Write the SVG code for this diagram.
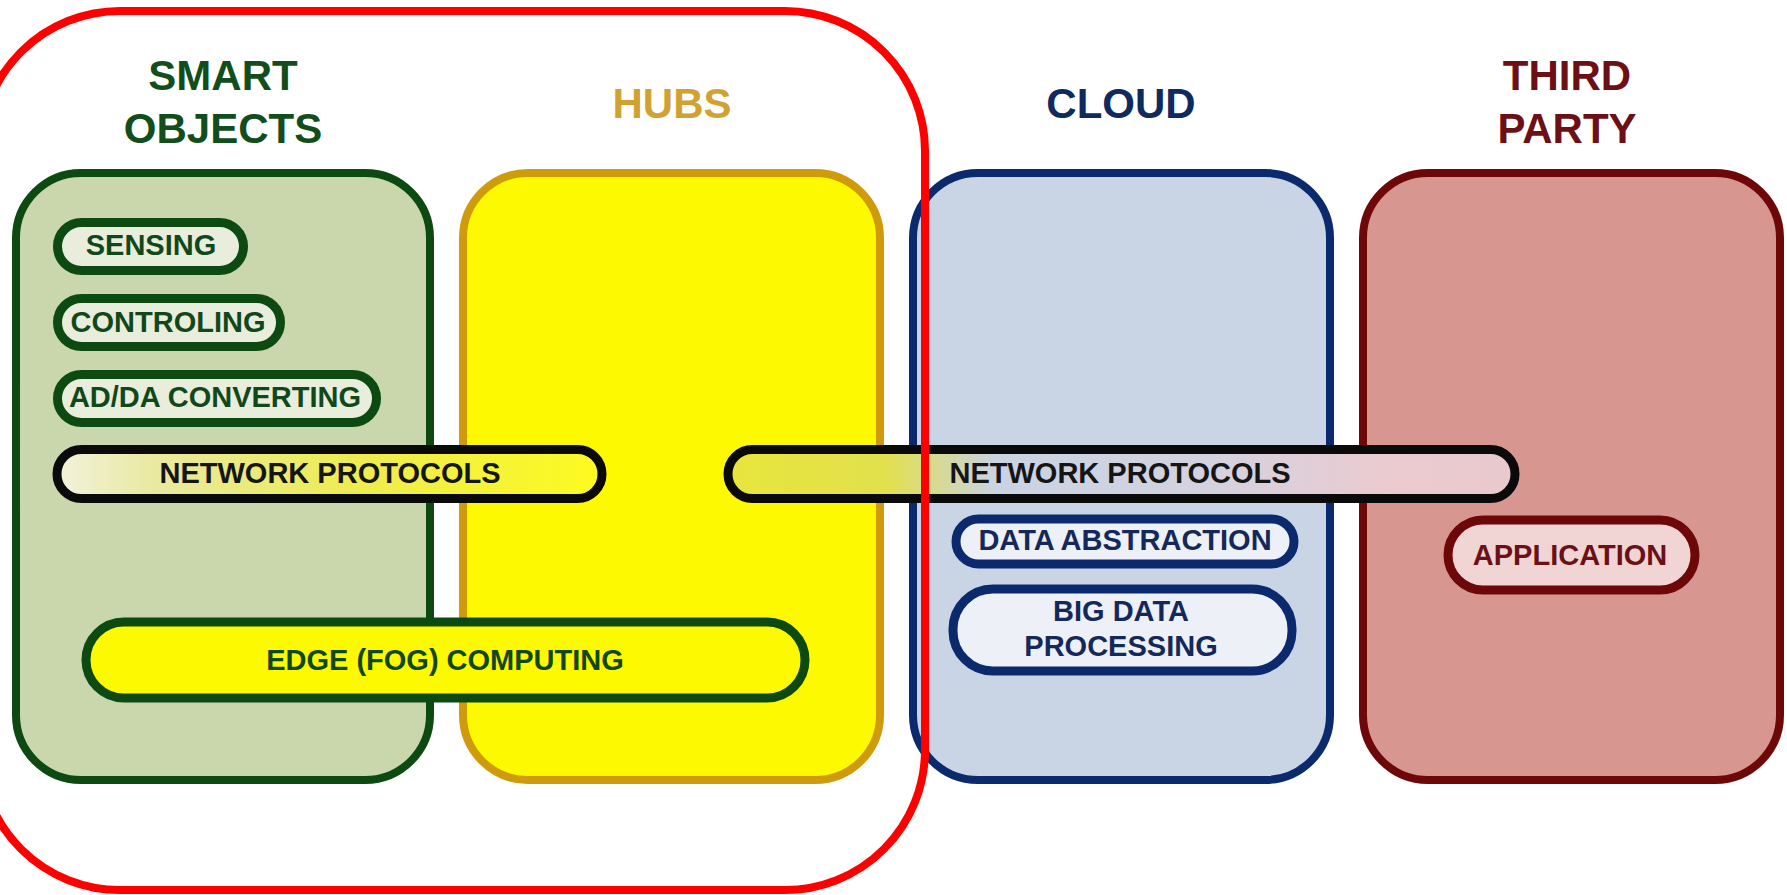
<svg xmlns="http://www.w3.org/2000/svg" width="1787" height="895" viewBox="0 0 1787 895">
<defs>
<style>
text{font-family:"Liberation Sans",Arial,sans-serif;font-weight:bold;text-anchor:middle}
.title{font-size:42px}
.lbl{font-size:29px}
.box{stroke-width:8}
.pill{stroke-width:9}
.g{fill:#10481a}
.gs{stroke:#0c4a12}
</style>
<linearGradient id="np1" x1="0" y1="0" x2="1" y2="0">
<stop offset="0" stop-color="#f2f2dc"/>
<stop offset="0.18" stop-color="#e9e9a0"/>
<stop offset="0.55" stop-color="#eeec50"/>
<stop offset="1" stop-color="#fdfa20"/>
</linearGradient>
<linearGradient id="np2" x1="0" y1="0" x2="1" y2="0">
<stop offset="0" stop-color="#e8e63c"/>
<stop offset="0.2" stop-color="#e2e04c"/>
<stop offset="0.34" stop-color="#cad3e2"/>
<stop offset="0.6" stop-color="#d3d2e0"/>
<stop offset="0.85" stop-color="#ebcbcf"/>
<stop offset="1" stop-color="#e8c9cd"/>
</linearGradient>
</defs>
<rect width="1787" height="895" fill="#ffffff"/>

<g id="smart-objects">
<rect class="box gs" x="16" y="173" width="414" height="607" rx="65" fill="#cad7ad"/>
<text class="title" x="223" y="90" fill="#124d1c">SMART</text>
<text class="title" x="223" y="143" fill="#124d1c">OBJECTS</text>
</g>
<g id="hubs">
<rect class="box" x="463" y="173" width="417" height="607" rx="65" fill="#fdf900" stroke="#cf9b0c"/>
<text class="title" x="672" y="118" fill="#d1a232">HUBS</text>
</g>
<g id="cloud">
<rect class="box" x="913" y="173" width="417" height="607" rx="65" fill="#c9d4e4" stroke="#0b2a6e"/>
<text class="title" x="1121" y="118" fill="#0f2a5e">CLOUD</text>
</g>
<g id="third-party">
<rect class="box" x="1363" y="173" width="417" height="607" rx="65" fill="#d89691" stroke="#6e0808"/>
<text class="title" x="1567" y="90" fill="#6d1016">THIRD</text>
<text class="title" x="1567" y="143" fill="#6d1016">PARTY</text>
</g>

<g id="sensing">
<rect class="pill gs" x="57.5" y="222.5" width="186" height="48" rx="24" fill="#e9eddc"/>
<text class="lbl g" x="151" y="255">SENSING</text>
</g>
<g id="controling">
<rect class="pill gs" x="57.5" y="298.5" width="223" height="48" rx="24" fill="#e9eddc"/>
<text class="lbl g" x="168" y="332">CONTROLING</text>
</g>
<g id="adda-converting">
<rect class="pill gs" x="57.5" y="374.5" width="319" height="48" rx="24" fill="#e9eddc"/>
<text class="lbl g" x="215" y="407">AD/DA CONVERTING</text>
</g>
<g id="network-protocols-1">
<rect class="pill" x="57" y="449.5" width="545" height="49" rx="24.5" fill="url(#np1)" stroke="#0a0a0a"/>
<text class="lbl" x="330" y="483" fill="#151515">NETWORK PROTOCOLS</text>
</g>
<g id="network-protocols-2">
<rect class="pill" x="728" y="449.5" width="787" height="49" rx="24.5" fill="url(#np2)" stroke="#0a0a0a"/>
<text class="lbl" x="1120" y="483" fill="#151515">NETWORK PROTOCOLS</text>
</g>
<g id="edge-fog-computing">
<rect class="pill gs" x="86" y="622" width="719" height="76" rx="38" fill="#fdf900"/>
<text class="lbl g" x="445" y="670">EDGE (FOG) COMPUTING</text>
</g>
<g id="data-abstraction">
<rect class="pill" x="956" y="519" width="338" height="45" rx="22.5" fill="#eef0f8" stroke="#0b2a6e"/>
<text class="lbl" x="1125" y="550" fill="#14285a">DATA ABSTRACTION</text>
</g>
<g id="big-data-processing">
<rect class="pill" x="953" y="589" width="339" height="82" rx="40" fill="#eef0f8" stroke="#0b2a6e"/>
<text class="lbl" x="1121" y="621" fill="#14285a">BIG DATA</text>
<text class="lbl" x="1121" y="656" fill="#14285a">PROCESSING</text>
</g>
<g id="application">
<rect class="pill" x="1448" y="520" width="247" height="70" rx="35" fill="#f1d5d5" stroke="#6e0808" stroke-width="10"/>
<text class="lbl" x="1570" y="565" fill="#6a1016">APPLICATION</text>
</g>

<g id="connectors"/>

<g id="highlight-frame">
<rect x="-20" y="11" width="945" height="879" rx="140" fill="none" stroke="#ff0000" stroke-width="8"/>
</g>
</svg>
